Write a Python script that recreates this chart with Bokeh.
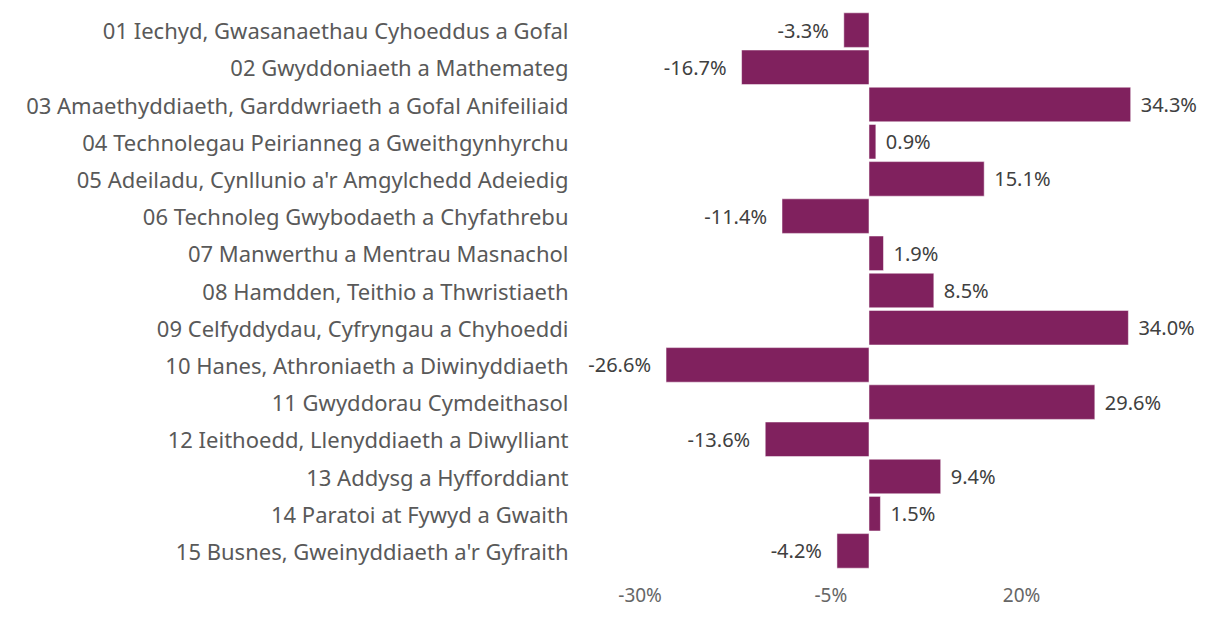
from bokeh.plotting import figure
from bokeh.models import ColumnDataSource, FactorRange, Range1d, FixedTicker, PrintfTickFormatter
from bokeh.core.properties import value
from bokeh.embed import file_html
from bokeh.resources import INLINE

categories = [
    "01 Iechyd, Gwasanaethau Cyhoeddus a Gofal",
    "02 Gwyddoniaeth a Mathemateg",
    "03 Amaethyddiaeth, Garddwriaeth a Gofal Anifeiliaid",
    "04 Technolegau Peirianneg a Gweithgynhyrchu",
    "05 Adeiladu, Cynllunio a'r Amgylchedd Adeiedig",
    "06 Technoleg Gwybodaeth a Chyfathrebu",
    "07 Manwerthu a Mentrau Masnachol",
    "08 Hamdden, Teithio a Thwristiaeth",
    "09 Celfyddydau, Cyfryngau a Chyhoeddi",
    "10 Hanes, Athroniaeth a Diwinyddiaeth",
    "11 Gwyddorau Cymdeithasol",
    "12 Ieithoedd, Llenyddiaeth a Diwylliant",
    "13 Addysg a Hyfforddiant",
    "14 Paratoi at Fywyd a Gwaith",
    "15 Busnes, Gweinyddiaeth a'r Gyfraith",
]
values = [-3.3, -16.7, 34.3, 0.9, 15.1, -11.4, 1.9, 8.5, 34.0, -26.6, 29.6, -13.6, 9.4, 1.5, -4.2]
tick_values = [-30, -5, 20]

labels = [f"{v:.1f}%" for v in values]
aligns = ["left" if v >= 0 else "right" for v in values]
offsets = [10 if v >= 0 else -15 for v in values]

src = ColumnDataSource(dict(cat=categories, val=values, lab=labels, align=aligns, off=offsets))

FONT = "Noto Sans"

p = figure(
    width=1200, height=610,
    y_range=FactorRange(factors=categories[::-1], range_padding=0),
    x_range=Range1d(-38.86, 43.45),
    output_backend="svg", toolbar_location=None,
    min_border_left=572, min_border_right=0, min_border_top=11, min_border_bottom=36,
)

p.hbar(y="cat", left=0, right="val", height=0.93, source=src,
       fill_color="#80215E", line_color="#ffffff", line_alpha=0.5, line_width=1)

p.text(x="val", y="cat", text="lab", source=src, text_align="align", x_offset="off",
       text_baseline="middle", text_font=value(FONT), text_font_size="20px",
       text_color="#404040")

p.xgrid.visible = False
p.ygrid.visible = False
p.outline_line_color = None

p.xaxis.ticker = FixedTicker(ticks=tick_values)
p.xaxis.formatter = PrintfTickFormatter(format="%d%%")
p.xaxis.axis_line_color = None
p.xaxis.major_tick_line_color = None
p.xaxis.minor_tick_line_color = None
p.xaxis.major_tick_out = 0
p.xaxis.major_tick_in = 0
p.xaxis.minor_tick_out = 0
p.xaxis.major_label_standoff = 12
p.xaxis.major_label_text_font = FONT
p.xaxis.major_label_text_font_size = "19px"
p.xaxis.major_label_text_color = "#666666"

p.yaxis.axis_line_color = None
p.yaxis.major_tick_line_color = None
p.yaxis.minor_tick_line_color = None
p.yaxis.major_tick_out = 0
p.yaxis.major_tick_in = 0
p.yaxis.minor_tick_out = 0
p.yaxis.major_label_standoff = 4
p.yaxis.major_label_text_font = FONT
p.yaxis.major_label_text_font_size = "22px"
p.yaxis.major_label_text_color = "#595959"

open("out.html", "w").write(file_html(p, INLINE))
